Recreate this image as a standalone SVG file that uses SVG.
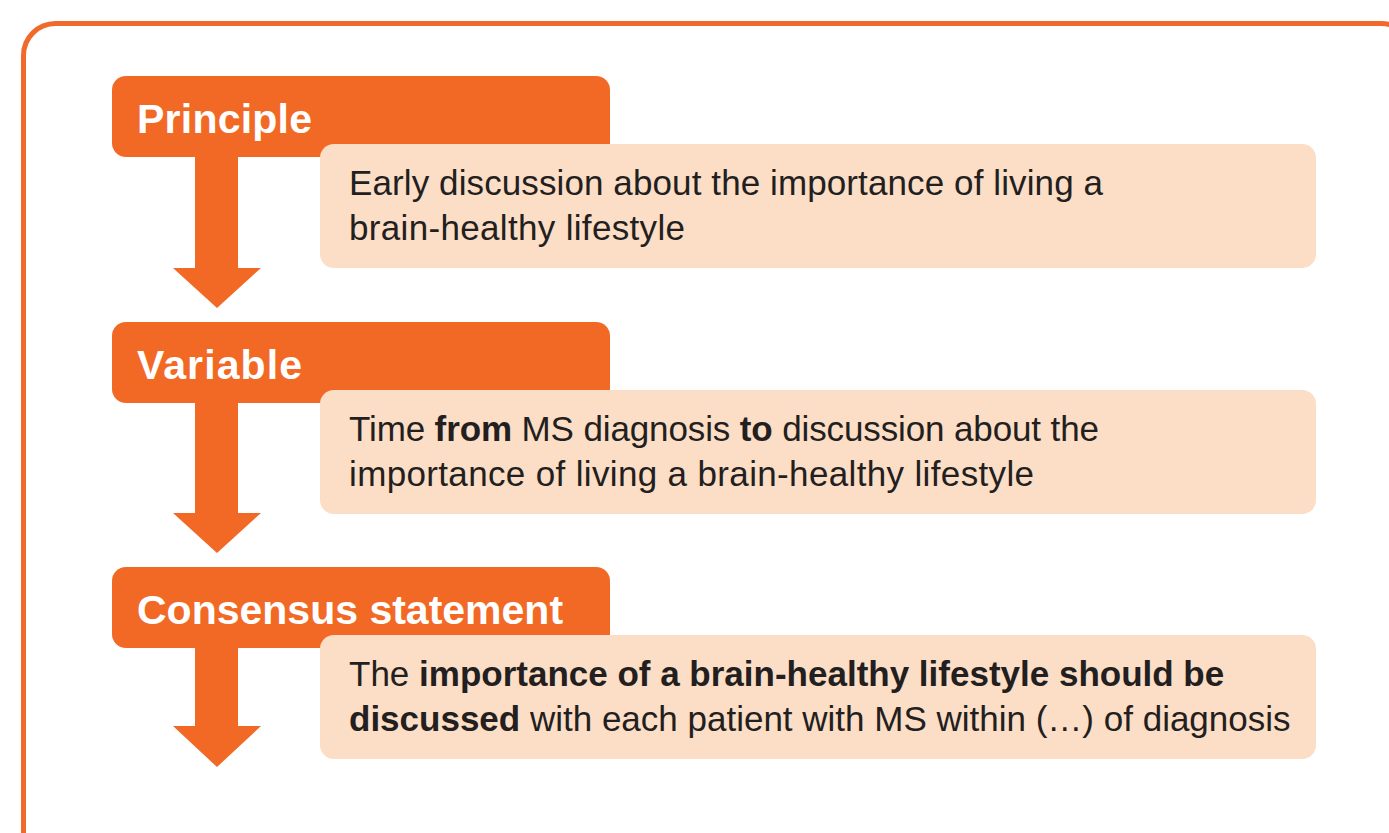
<svg xmlns="http://www.w3.org/2000/svg" width="1389" height="833" viewBox="0 0 1389 833">
<style>
.frame{fill:none;stroke:#F26A2B;stroke-width:5}
.hdr{fill:#F26926}
.box{fill:#FCDDC6}
.arrow{fill:#F26926}
.ht{font-family:"Liberation Sans",Arial,sans-serif;font-weight:bold;font-size:41px;fill:#FFFFFF}
.bt{font-family:"Liberation Sans",Arial,sans-serif;font-size:35px;fill:#231F20}
.b{font-weight:bold}
</style>
<rect width="1389" height="833" fill="#FFFFFF"/>
<rect class="frame" x="23.5" y="23.5" width="1390" height="840" rx="32"/>
<g id="connectors">
<polygon class="arrow" points="195,150 238,150 238,268 261,268 217,308 173,268 195,268"/>
<polygon class="arrow" points="195,395 238,395 238,513 261,513 217,553 173,513 195,513"/>
<polygon class="arrow" points="195,640 238,640 238,726 261,726 217,767 173,726 195,726"/>
</g>
<g id="principle">
<rect class="hdr" x="112" y="76" width="498" height="81" rx="14"/>
<text class="ht" x="137" y="133" textLength="175" lengthAdjust="spacing">Principle</text>
</g>
<g id="principle-text">
<rect class="box" x="320" y="144" width="996" height="124" rx="14"/>
<text class="bt" x="349" y="195" textLength="754" lengthAdjust="spacing">Early discussion about the importance of living a</text>
<text class="bt" x="349" y="240" textLength="336" lengthAdjust="spacing">brain-healthy lifestyle</text>
</g>
<g id="variable">
<rect class="hdr" x="112" y="322" width="498" height="81" rx="14"/>
<text class="ht" x="137" y="379" textLength="165" lengthAdjust="spacing">Variable</text>
</g>
<g id="variable-text">
<rect class="box" x="320" y="390" width="996" height="124" rx="14"/>
<text class="bt" x="349" y="441" textLength="750" lengthAdjust="spacing">Time <tspan class="b">from</tspan> MS diagnosis <tspan class="b">to</tspan> discussion about the</text>
<text class="bt" x="349" y="486" textLength="685" lengthAdjust="spacing">importance of living a brain-healthy lifestyle</text>
</g>
<g id="consensus">
<rect class="hdr" x="112" y="567" width="498" height="81" rx="14"/>
<text class="ht" x="137" y="624">Consensus statement</text>
</g>
<g id="consensus-text">
<rect class="box" x="320" y="635" width="996" height="124" rx="14"/>
<text class="bt" x="349" y="686">The <tspan class="b">importance of a brain-healthy lifestyle should be</tspan></text>
<text class="bt" x="349" y="731"><tspan class="b">discussed</tspan> with each patient with MS within (…) of diagnosis</text>
</g>
</svg>
